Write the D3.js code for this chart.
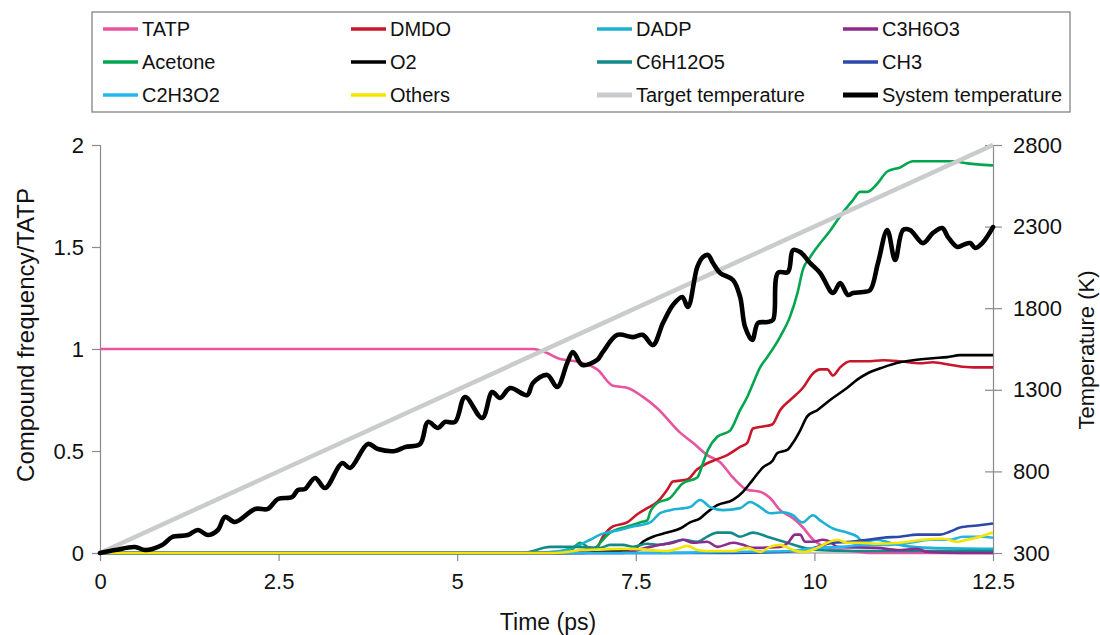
<!DOCTYPE html>
<html>
<head>
<meta charset="utf-8">
<script src="https://cdn.jsdelivr.net/npm/d3@7"></script>
<style>
  body { margin: 0; background: #fff; }
  svg { font-family: "Liberation Sans", Arial, sans-serif; }
</style>
</head>
<body>
<svg id="chart" width="1100" height="635"></svg>
<script>
// series data: [time (ps), value]
const tatp = [[0,1],[6.06,1],[6.26,0.98],[6.41,0.955],[6.72,0.935],[6.96,0.9],[7.18,0.82],[7.38,0.81],[7.6,0.765],[7.8,0.71],[8.12,0.59],[8.3,0.54],[8.5,0.48],[8.68,0.445],[8.86,0.37],[9.06,0.31],[9.24,0.3],[9.38,0.27],[9.52,0.21],[9.7,0.17],[9.84,0.125],[9.97,0.07],[10.04,0.05],[10.22,0.02],[10.5,0.01],[10.8,0],[12.5,0]];
const dmdo = [[0,0],[6.44,0],[6.79,0.015],[6.96,0.03],[7.04,0.08],[7.18,0.13],[7.38,0.15],[7.52,0.19],[7.66,0.22],[7.8,0.25],[7.94,0.31],[8.02,0.35],[8.22,0.36],[8.36,0.41],[8.5,0.44],[8.64,0.46],[8.78,0.48],[8.96,0.52],[9.06,0.54],[9.14,0.61],[9.28,0.62],[9.41,0.63],[9.52,0.7],[9.66,0.75],[9.84,0.81],[9.98,0.88],[10.08,0.9],[10.18,0.9],[10.26,0.87],[10.36,0.91],[10.5,0.94],[10.74,0.94],[10.96,0.945],[11.2,0.94],[11.48,0.93],[11.66,0.935],[11.94,0.92],[12.22,0.91],[12.5,0.91]];
const dadp = [[0,0],[6.0,0],[6.44,0.01],[6.65,0.03],[6.86,0.065],[7.0,0.09],[7.24,0.11],[7.46,0.13],[7.7,0.15],[7.84,0.195],[7.98,0.21],[8.26,0.225],[8.4,0.26],[8.54,0.225],[8.72,0.21],[8.96,0.22],[9.1,0.25],[9.24,0.225],[9.38,0.195],[9.56,0.2],[9.7,0.185],[9.83,0.15],[9.98,0.185],[10.08,0.16],[10.26,0.12],[10.46,0.1],[10.6,0.08],[10.68,0.055],[10.88,0.065],[11.06,0.05],[11.27,0.035],[11.62,0.025],[12.5,0.02]];
const c3h6o3 = [[0,0],[7.28,0],[7.7,0.03],[7.84,0.04],[8.02,0.05],[8.16,0.065],[8.3,0.05],[8.5,0.055],[8.64,0.03],[8.86,0.05],[9.0,0.04],[9.14,0.025],[9.52,0.03],[9.63,0.05],[9.73,0.09],[9.8,0.09],[9.87,0.055],[9.98,0.055],[10.12,0.065],[10.22,0.055],[10.32,0.03],[10.88,0.025],[11.16,0.015],[11.44,0.02],[11.58,0.005],[12.04,0],[12.5,0]];
const acetone = [[0,0],[6.4,0],[6.58,0.01],[6.72,0.05],[6.9,0.015],[7.0,0.05],[7.14,0.1],[7.38,0.13],[7.56,0.15],[7.66,0.16],[7.7,0.2],[7.8,0.245],[7.98,0.27],[8.15,0.34],[8.36,0.37],[8.44,0.44],[8.51,0.505],[8.64,0.57],[8.82,0.6],[8.96,0.7],[9.06,0.765],[9.14,0.83],[9.24,0.91],[9.34,0.96],[9.52,1.06],[9.66,1.16],[9.76,1.27],[9.84,1.39],[9.94,1.45],[10.04,1.5],[10.22,1.58],[10.4,1.67],[10.54,1.73],[10.64,1.77],[10.74,1.77],[10.88,1.81],[11.02,1.87],[11.2,1.89],[11.38,1.92],[11.58,1.92],[11.94,1.92],[12.14,1.91],[12.28,1.905],[12.5,1.9]];
const o2 = [[0,0],[6.72,0],[7.0,0.005],[7.38,0.015],[7.52,0.03],[7.6,0.055],[7.74,0.08],[7.94,0.1],[8.12,0.12],[8.26,0.15],[8.4,0.17],[8.5,0.2],[8.64,0.235],[8.86,0.26],[9.0,0.3],[9.14,0.36],[9.28,0.42],[9.42,0.455],[9.48,0.49],[9.62,0.505],[9.7,0.54],[9.8,0.6],[9.9,0.67],[10.04,0.7],[10.22,0.75],[10.46,0.81],[10.6,0.85],[10.74,0.88],[10.96,0.91],[11.2,0.935],[11.38,0.945],[11.66,0.955],[11.86,0.96],[12.04,0.97],[12.5,0.97]];
const c6h12o5 = [[0,0],[5.95,0],[6.06,0.01],[6.3,0.03],[6.44,0.03],[6.68,0.03],[7.0,0.025],[7.14,0.04],[7.32,0.04],[7.46,0.03],[7.66,0.045],[7.8,0.04],[7.98,0.05],[8.16,0.065],[8.36,0.055],[8.5,0.08],[8.64,0.1],[8.82,0.1],[8.96,0.08],[9.14,0.1],[9.34,0.08],[9.48,0.065],[9.62,0.05],[9.8,0.03],[10.04,0.015],[10.5,0.01],[12.5,0.01]];
const ch3 = [[0,0],[8.4,0],[9.52,0.005],[9.94,0.02],[10.26,0.05],[10.5,0.055],[10.74,0.065],[10.96,0.075],[11.2,0.08],[11.44,0.09],[11.76,0.09],[11.9,0.105],[12.04,0.125],[12.28,0.135],[12.5,0.145]];
const c2h3o2 = [[0,0],[7.7,0],[8.68,0.005],[9.66,0.01],[10.04,0.025],[10.4,0.03],[10.68,0.04],[11.06,0.04],[11.34,0.05],[11.62,0.065],[11.9,0.065],[12.08,0.08],[12.32,0.08],[12.5,0.075]];
const others = [[0,0],[6.3,0],[6.54,0.005],[6.76,0.015],[7.46,0.02],[7.94,0.01],[8.12,0.025],[8.22,0.035],[8.36,0.015],[8.5,0.01],[8.86,0.01],[9.06,0.025],[9.24,0.005],[9.38,0.03],[9.52,0.04],[9.7,0.015],[9.84,0.005],[10.04,0.025],[10.18,0.05],[10.32,0.065],[10.46,0.05],[10.64,0.05],[10.88,0.045],[11.2,0.05],[11.52,0.065],[11.8,0.07],[12.0,0.055],[12.14,0.065],[12.32,0.08],[12.5,0.1]];

// temperatures (K)
const targetTemp = [[0,300],[12.5,2800]];
const systemTemp = [[0,300],[0.21,318],[0.49,337],[0.63,318],[0.87,349],[1.01,398],[1.23,410],[1.37,441],[1.51,410],[1.65,441],[1.75,521],[1.89,490],[2.17,570],[2.35,570],[2.49,631],[2.69,643],[2.77,686],[2.87,692],[3.01,760],[3.15,698],[3.39,851],[3.5,821],[3.75,968],[3.89,937],[4.13,925],[4.27,949],[4.48,968],[4.59,1103],[4.73,1066],[4.83,1103],[4.97,1103],[5.11,1256],[5.35,1127],[5.49,1286],[5.6,1250],[5.74,1311],[5.98,1268],[6.06,1342],[6.26,1391],[6.4,1317],[6.54,1464],[6.62,1532],[6.75,1452],[6.96,1483],[7.04,1532],[7.24,1636],[7.46,1623],[7.6,1636],[7.74,1574],[7.88,1709],[8.02,1820],[8.15,1869],[8.23,1807],[8.36,2052],[8.44,2114],[8.51,2126],[8.58,2077],[8.68,2016],[8.86,1973],[8.96,1869],[9.03,1685],[9.13,1605],[9.21,1709],[9.34,1715],[9.42,1728],[9.49,2016],[9.63,2022],[9.7,2156],[9.8,2144],[9.94,2077],[10.08,2016],[10.26,1893],[10.36,1954],[10.47,1881],[10.54,1893],[10.68,1899],[10.78,1911],[10.89,2077],[11.02,2279],[11.13,2095],[11.24,2279],[11.34,2279],[11.52,2199],[11.66,2261],[11.79,2291],[11.87,2236],[12.0,2175],[12.08,2187],[12.18,2199],[12.25,2169],[12.35,2199],[12.5,2297]];

const xTicks = [0, 2.5, 5, 7.5, 10, 12.5];
const yTicks = [0, 0.5, 1, 1.5, 2];
const tempTicks = [300, 800, 1300, 1800, 2300, 2800];

const compounds = [
  { name: "TATP", data: tatp, color: "#e6559f" },
  { name: "DMDO", data: dmdo, color: "#c8172b" },
  { name: "DADP", data: dadp, color: "#1eb1d3" },
  { name: "C3H6O3", data: c3h6o3, color: "#8b2b8e" },
  { name: "Acetone", data: acetone, color: "#03a64f" },
  { name: "O2", data: o2, color: "#000000" },
  { name: "C6H12O5", data: c6h12o5, color: "#13898a" },
  { name: "CH3", data: ch3, color: "#2d48a8" },
  { name: "C2H3O2", data: c2h3o2, color: "#22b8ee" },
  { name: "Others", data: others, color: "#f4e400" }
];

const svg = d3.select("#chart");
const plotL = 100, plotR = 993, plotT = 145, plotB = 553;

const x = d3.scaleLinear().domain([0, 12.5]).range([plotL, plotR]);
const y = d3.scaleLinear().domain([0, 2]).range([plotB, plotT]);
const yT = d3.scaleLinear().domain([300, 2800]).range([plotB, plotT]);

// axes
const axisColor = "#8a8a8a";
const gx = svg.append("g").attr("transform", "translate(0," + plotB + ")")
  .call(d3.axisBottom(x).tickValues(xTicks).tickSize(8).tickPadding(12).tickFormat(d3.format("")));
const gy = svg.append("g").attr("transform", "translate(" + plotL + ",0)")
  .call(d3.axisLeft(y).tickValues(yTicks).tickSize(8).tickPadding(8).tickFormat(d3.format("")));
const gr = svg.append("g").attr("transform", "translate(" + plotR + ",0)")
  .call(d3.axisRight(yT).tickValues(tempTicks).tickSize(9).tickPadding(11).tickFormat(d3.format("d")));
gr.selectAll(".tick line").attr("x1", -8);

[gx, gy, gr].forEach(function (g) {
  g.select(".domain").attr("stroke", axisColor).attr("stroke-width", 1.2);
  g.selectAll(".tick line").attr("stroke", axisColor).attr("stroke-width", 1.2);
  g.selectAll(".tick text").attr("fill", "#111").style("font-size", "22px")
    .style("font-family", "'Liberation Sans', Arial, sans-serif");
});
gx.select(".domain").attr("d", "M" + plotL + ",0H" + plotR);

// axis titles
svg.append("text").attr("x", 548).attr("y", 630).attr("text-anchor", "middle")
  .style("font-size", "23px").attr("fill", "#111").text("Time (ps)");
svg.append("text").attr("transform", "translate(34,335) rotate(-90)").attr("text-anchor", "middle")
  .style("font-size", "24px").attr("fill", "#111").text("Compound frequency/TATP");
svg.append("text").attr("transform", "translate(1094,350) rotate(-90)").attr("text-anchor", "middle")
  .style("font-size", "22px").attr("fill", "#111").text("Temperature (K)");

// lines
const line = d3.line().x(function (d) { return x(d[0]); }).y(function (d) { return y(d[1]); })
  .curve(d3.curveMonotoneX);
const lineT = d3.line().x(function (d) { return x(d[0]); }).y(function (d) { return yT(d[1]); })
  .curve(d3.curveCatmullRom.alpha(0.5));

// draw from the back so the yellow baseline sits on top like the original
const drawOrder = ["TATP", "DMDO", "Acetone", "O2", "DADP", "C6H12O5", "C3H6O3", "CH3", "C2H3O2", "Others"];
drawOrder.forEach(function (n) {
  const s = compounds.find(function (c) { return c.name === n; });
  svg.append("path").datum(s.data).attr("d", line)
    .attr("fill", "none").attr("stroke", s.color).attr("stroke-width", 2.6)
    .attr("stroke-linejoin", "round");
});

svg.append("path").datum(targetTemp).attr("d", lineT)
  .attr("fill", "none").attr("stroke", "#c9cbcd").attr("stroke-width", 4.5);
svg.append("path").datum(systemTemp).attr("d", lineT)
  .attr("fill", "none").attr("stroke", "#000").attr("stroke-width", 4.6)
  .attr("stroke-linejoin", "round").attr("stroke-linecap", "round");

// legend
const legendItems = compounds.map(function (c) { return { name: c.name, color: c.color, w: 3.5 }; })
  .concat([{ name: "Target temperature", color: "#c9cbcd", w: 5 }, { name: "System temperature", color: "#000", w: 5 }]);
const colX = [103, 351, 597, 843];
const rowY = [29, 62, 95];

svg.append("rect").attr("x", 92).attr("y", 12).attr("width", 978).attr("height", 100)
  .attr("fill", "#fff").attr("stroke", "#7a7a7a").attr("stroke-width", 1.2);

const leg = svg.selectAll(".leg").data(legendItems).enter().append("g").attr("class", "leg")
  .attr("transform", function (d, i) { return "translate(" + colX[i % 4] + "," + rowY[Math.floor(i / 4)] + ")"; });
leg.append("line").attr("x1", 0).attr("x2", 35).attr("y1", 0).attr("y2", 0)
  .attr("stroke", function (d) { return d.color; }).attr("stroke-width", function (d) { return d.w; });
leg.append("text").attr("x", 39).attr("y", 7).style("font-size", "20px").attr("fill", "#111")
  .text(function (d) { return d.name; });
</script>
</body>
</html>
